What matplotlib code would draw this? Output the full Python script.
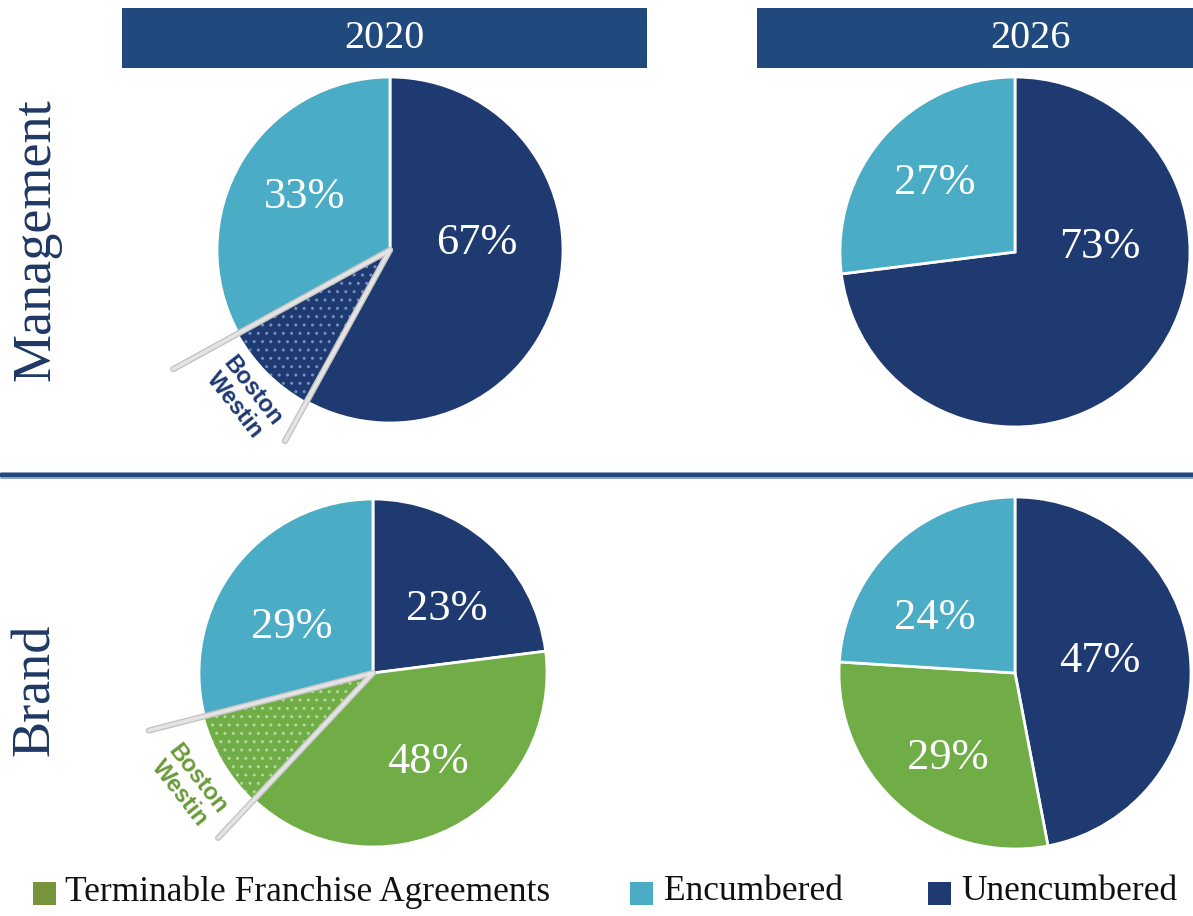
import numpy as np
import matplotlib.pyplot as plt
from matplotlib.patches import Rectangle

plt.rcParams['font.family'] = ['Liberation Serif', 'DejaVu Serif']

W, H = 1193, 916

# Доли портфеля, по часовой стрелке от 12 часов
mgmt_2020_labels = ['Unencumbered', 'Boston Westin', 'Encumbered']
mgmt_2020_values = [58, 9, 33]          # 58 + 9 = 67% без обременения
mgmt_2026_labels = ['Unencumbered', 'Encumbered']
mgmt_2026_values = [73, 27]

brand_2020_labels = ['Unencumbered', 'Terminable', 'Boston Westin', 'Encumbered']
brand_2020_values = [23, 39, 9, 29]     # 39 + 9 = 48% с правом расторжения
brand_2026_labels = ['Unencumbered', 'Terminable', 'Encumbered']
brand_2026_values = [47, 29, 24]

years = ['2020', '2026']
rows = ['Management', 'Brand']
legend_labels = ['Terminable Franchise Agreements', 'Encumbered', 'Unencumbered']

NAVY = '#1f3a70'
LIGHT = '#4bacc6'
GREEN = '#70ad47'
HEADER = '#204a7e'
colors = {'Unencumbered': NAVY, 'Encumbered': LIGHT, 'Terminable': GREEN,
          'Boston Westin': NAVY}

fig = plt.figure(figsize=(W / 100, H / 100), dpi=100)
ax = fig.add_axes([0, 0, 1, 1])


def Y(y):
    return H - y


def draw_pie(cx, cy, r, labels, values, text_pos, bw_color=None, dot_color=None,
             bw_text_pos=None, line_len=(1.4, 1.25)):
    cols = list(colors[l] for l in labels)
    if 'Terminable' in labels:
        cols = [GREEN if l == 'Boston Westin' else c for l, c in zip(labels, cols)]
    wedges, _ = ax.pie(values, colors=cols, startangle=90, counterclock=False,
                       center=(cx, Y(cy)), radius=r,
                       wedgeprops=dict(edgecolor='white', linewidth=2))
    # подписи процентов
    totals = {}
    for l, v in zip(labels, values):
        key = 'Unencumbered' if (l == 'Boston Westin' and 'Terminable' not in labels) else l
        if l == 'Boston Westin' and 'Terminable' in labels:
            key = 'Terminable'
        totals[key] = totals.get(key, 0) + v
    for key, (tx, ty) in text_pos.items():
        ax.text(tx, Y(ty), f'{totals[key]}%', color='white', fontsize=32,
                ha='center', va='center')
    if 'Boston Westin' in labels:
        i = labels.index('Boston Westin')
        w = wedges[i]
        w.set_hatch('..')
        w.set_edgecolor(dot_color)
        w.set_linewidth(0)
        # выноски по границам сектора
        for ang, k in zip((w.theta1, w.theta2), line_len):
            a = np.deg2rad(ang)
            xs = [cx, cx + k * r * np.cos(a)]
            ys = [Y(cy), Y(cy) + k * r * np.sin(a)]
            ax.plot(xs, ys, color='#c4c4c4', lw=4.5, solid_capstyle='round', zorder=5)
            ax.plot(xs, ys, color='#e4e4e4', lw=2.5, solid_capstyle='round', zorder=6)
        ax.text(bw_text_pos[0], Y(bw_text_pos[1]), 'Boston\nWestin', color=bw_color,
                family='Liberation Sans', fontweight='bold', fontsize=17,
                rotation=-52, ha='center', va='center', linespacing=1.0)


draw_pie(390, 250, 173, mgmt_2020_labels, mgmt_2020_values,
         {'Encumbered': (305, 197), 'Unencumbered': (477, 243)},
         bw_color=NAVY, dot_color='#7390c2', bw_text_pos=(244, 398), line_len=(1.43, 1.26))
draw_pie(1015, 252, 175, mgmt_2026_labels, mgmt_2026_values,
         {'Encumbered': (935, 183), 'Unencumbered': (1100, 247)})
draw_pie(373, 673, 174, brand_2020_labels, brand_2020_values,
         {'Encumbered': (292, 627), 'Unencumbered': (447, 609), 'Terminable': (428, 762)},
         bw_color='#6a9a3a', dot_color='#b5d99a', bw_text_pos=(189, 786), line_len=(1.33, 1.3))
draw_pie(1015, 673, 176, brand_2026_labels, brand_2026_values,
         {'Encumbered': (935, 618), 'Unencumbered': (1100, 661), 'Terminable': (948, 758)})

# заголовки лет
for (x0, x1), yr in zip([(122, 647), (757, 1193)], years):
    ax.add_patch(Rectangle((x0, Y(68)), x1 - x0, 60, facecolor=HEADER, edgecolor='none'))
    ax.text((x0 + x1) / 2 if yr == '2020' else 1030, Y(39), yr, color='white',
            fontsize=29, ha='center', va='center')

# подписи строк
for yc, name in zip([240, 690], rows):
    ax.text(36, Y(yc), name, color='#1f3864', fontsize=39, rotation=90,
            ha='center', va='center')

# разделитель
ax.plot([0, W], [Y(475), Y(475)], color='#8fa6c8', lw=5, solid_capstyle='butt')
ax.plot([0, W], [Y(475), Y(475)], color=HEADER, lw=3, solid_capstyle='butt')

# легенда
for (sx, tx), lab, c in zip([(33, 65), (630, 664), (928, 961)], legend_labels,
                            ['#77933c', LIGHT, NAVY]):
    ax.add_patch(Rectangle((sx, Y(905)), 23, 23, facecolor=c, edgecolor='none'))
    ax.text(tx, Y(892), lab, color='#111111', fontsize=25.5, ha='left', va='center')

ax.set_xlim(0, W)
ax.set_ylim(0, H)
ax.set_aspect('auto')
ax.axis('off')

fig.savefig('out.png', dpi=100, facecolor='white')
